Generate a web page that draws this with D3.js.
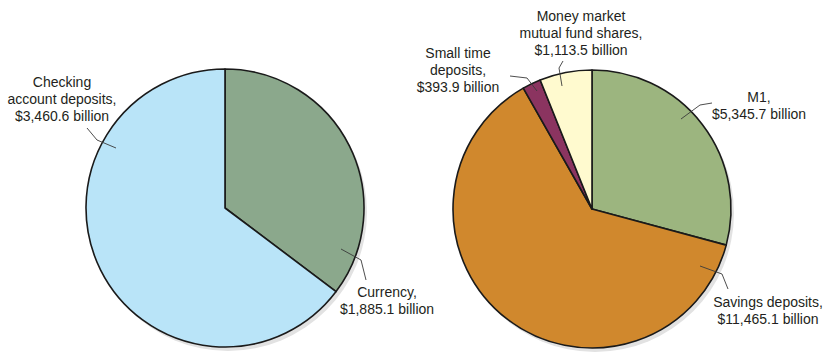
<!DOCTYPE html>
<html>
<head>
<meta charset="utf-8">
<script src="https://cdn.jsdelivr.net/npm/d3@7"></script>
<style>
  body { margin: 0; background: #fff; }
  svg text { font-family: "Liberation Sans", Arial, Helvetica, sans-serif; font-size: 14px; fill: #231f20; }
</style>
</head>
<body>
<div class="chart"></div>
<script>
// ---------- data ----------
var m1Labels = ["Currency", "Checking account deposits"];
var m1Values = [1885.1, 3460.6];
var m1Colors = ["#8ba88c", "#b9e4f8"];

var m2Labels = ["M1", "Savings deposits", "Small time deposits", "Money market mutual fund shares"];
var m2Values = [5345.7, 11465.1, 393.9, 1113.5];
var m2Colors = ["#9cb57f", "#d0882d", "#8b3460", "#fffacf"];

// label text lines (value line is built from the values)
var m1Text = [["Currency,"], ["Checking", "account deposits,"]];
var m2Text = [["M1,"], ["Savings deposits,"], ["Small time", "deposits,"], ["Money market", "mutual fund shares,"]];

// ---------- layout ----------
var svgWidth = 826, svgHeight = 354;
var radius = 139;

var svg = d3.select(".chart").append("svg")
    .attr("width", svgWidth)
    .attr("height", svgHeight);

var fmt = d3.format(",.1f");

// label placement: text center (x, first baseline) and leader polyline, relative to pie center
var m1Place = [
    { x: 162, y: 89, leader: [[116, 41], [136, 52], [141, 72]] },
    { x: -163, y: -121, leader: [[-109, -60], [-128, -68], [-138, -80]] }
];
var m2Place = [
    { x: 167, y: -107, leader: [[89, -90], [108, -104], [120, -106]] },
    { x: 176, y: 98, leader: [[108, 57], [130, 65], [136, 80]] },
    { x: -134, y: -151, leader: [[-55, -118], [-65, -131], [-82, -133]] },
    { x: -11, y: -188, leader: [[-30, -123], [-33, -141], [-29, -148]] }
];

function drawPie(cx, cy, values, colors, text, place) {
    var g = svg.append("g").attr("transform", `translate(${cx}, ${cy})`);

    // soft shadow behind the pie
    g.append("circle")
        .attr("cx", 3)
        .attr("cy", 4)
        .attr("r", radius)
        .attr("fill", "#e2e2e2");

    var pie = d3.pie().sort(null).value(d => d);
    var arc = d3.arc().innerRadius(0).outerRadius(radius);

    g.selectAll("path.slice")
        .data(pie(values))
        .enter()
        .append("path")
        .attr("class", "slice")
        .attr("d", arc)
        .attr("fill", (d, i) => colors[i])
        .attr("stroke", "#1a1a1a")
        .attr("stroke-width", 1.6)
        .attr("stroke-linejoin", "round");

    var line = d3.line();

    place.forEach(function (p, i) {
        g.append("path")
            .attr("d", line(p.leader))
            .attr("fill", "none")
            .attr("stroke", "#3a3a3a")
            .attr("stroke-width", 0.9);

        var lines = text[i].concat(["$" + fmt(values[i]) + " billion"]);
        var t = g.append("text")
            .attr("text-anchor", "middle")
            .attr("x", p.x)
            .attr("y", p.y);
        lines.forEach(function (s, j) {
            t.append("tspan")
                .attr("x", p.x)
                .attr("dy", j === 0 ? 0 : 17)
                .text(s);
        });
    });
}

drawPie(225, 208, m1Values, m1Colors, m1Text, m1Place);
drawPie(592, 209, m2Values, m2Colors, m2Text, m2Place);
</script>
</body>
</html>
